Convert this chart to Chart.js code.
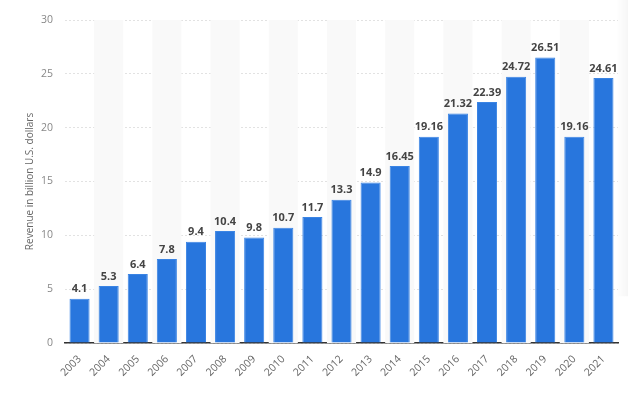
<!DOCTYPE html>
<html>
<head>
<meta charset="utf-8">
<script src="https://cdn.jsdelivr.net/npm/chart.js@4"></script>
<style>
  html, body { margin: 0; padding: 0; background: #fff; }
  #wrap { width: 628px; height: 395px; position: relative; }
</style>
</head>
<body>
<div id="wrap"><canvas id="c" width="628" height="395"></canvas></div>
<script>
// data
const years = ['2003','2004','2005','2006','2007','2008','2009','2010','2011','2012',
               '2013','2014','2015','2016','2017','2018','2019','2020','2021'];
const revenue = [4.1, 5.3, 6.4, 7.8, 9.4, 10.4, 9.8, 10.7, 11.7, 13.3,
                 14.9, 16.45, 19.16, 21.32, 22.39, 24.72, 26.51, 19.16, 24.61];
const valueLabels = ['4.1','5.3','6.4','7.8','9.4','10.4','9.8','10.7','11.7','13.3',
                     '14.9','16.45','19.16','21.32','22.39','24.72','26.51','19.16','24.61'];
const yTicks = [0, 5, 10, 15, 20, 25, 30];

const FONT = "'Open Sans', 'DejaVu Sans', Arial, sans-serif";

// alternate column shading behind bars
const stripes = {
  id: 'stripes',
  beforeDatasetsDraw(chart) {
    const { ctx, chartArea: a, scales: { x } } = chart;
    const step = x.width / years.length;
    ctx.save();
    ctx.fillStyle = '#f9f9f9';
    years.forEach((_, i) => {
      if (i % 2 === 1) {
        const cx = x.getPixelForValue(i);
        ctx.fillRect(cx - step / 2, a.top, step, a.bottom - a.top);
      }
    });
    ctx.restore();
  }
};

// value labels above the bars
const valueText = {
  id: 'valueText',
  afterDatasetsDraw(chart) {
    const { ctx } = chart;
    const meta = chart.getDatasetMeta(0);
    ctx.save();
    ctx.font = `bold 11px ${FONT}`;
    ctx.fillStyle = '#444444';
    ctx.textAlign = 'center';
    ctx.textBaseline = 'bottom';
    meta.data.forEach((bar, i) => {
      ctx.fillText(valueLabels[i], bar.x, bar.y - 4);
    });
    ctx.restore();
  }
};

// faint shadow along the right edge
const edgeFade = {
  id: 'edgeFade',
  afterDraw(chart) {
    const { ctx, width, height } = chart;
    ctx.save();
    const g = ctx.createLinearGradient(width - 12, 0, width, 0);
    g.addColorStop(0, 'rgba(240,240,240,0)');
    g.addColorStop(1, 'rgba(240,240,240,0.6)');
    ctx.fillStyle = g;
    ctx.fillRect(width - 12, 0, 12, height * 0.75);
    ctx.restore();
  }
};

new Chart(document.getElementById('c'), {
  type: 'bar',
  data: {
    labels: years,
    datasets: [{
      data: revenue,
      backgroundColor: '#2876dd',
      borderColor: '#3a84e4',
      borderWidth: 1,
      barPercentage: 0.69,
      categoryPercentage: 1
    }]
  },
  options: {
    responsive: false,
    animation: false,
    layout: { padding: { top: 20, right: 10, left: 0, bottom: 0 } },
    plugins: { legend: { display: false }, tooltip: { enabled: false } },
    scales: {
      x: {
        grid: { display: false },
        border: { display: true, color: '#333333', width: 1.5 },
        ticks: {
          color: '#666666',
          font: { family: FONT, size: 10.5 },
          minRotation: 45,
          maxRotation: 45,
          padding: 2
        },
        afterFit(s) { s.height = 52; }
      },
      y: {
        min: 0,
        max: 30,
        afterBuildTicks(s) { s.ticks = yTicks.map(v => ({ value: v })); },
        grid: { color: '#e2e2e2', drawTicks: false },
        border: { display: false, dash: [2, 2] },
        ticks: {
          color: '#888888',
          font: { family: FONT, size: 10.5 },
          padding: 12
        },
        title: {
          display: true,
          text: 'Revenue in billion U.S. dollars',
          color: '#666666',
          font: { family: FONT, size: 10 },
          padding: { top: 24, bottom: 0 }
        },
        afterFit(s) { s.width = 65; }
      }
    }
  },
  plugins: [stripes, valueText, edgeFade]
});
</script>
</body>
</html>
